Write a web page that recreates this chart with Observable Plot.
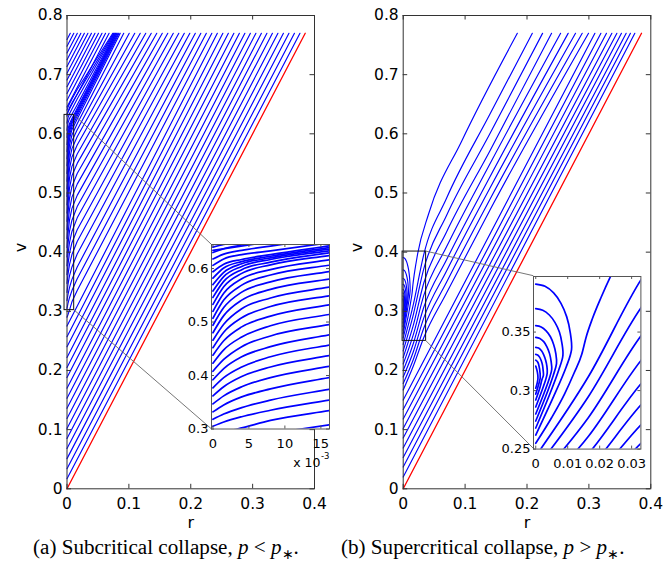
<!DOCTYPE html>
<html><head><meta charset="utf-8">
<script src="https://cdn.jsdelivr.net/npm/d3@7"></script>
<script src="https://cdn.jsdelivr.net/npm/@observablehq/plot@0.6"></script>
<style>
body{margin:0;background:#fff;}
#wrap{position:relative;width:663px;height:565px;overflow:hidden;background:#fff;}
.cap{position:absolute;font-family:"Liberation Serif",serif;font-size:19px;white-space:nowrap;color:#000;line-height:1.2;}
</style></head><body><div id="wrap"></div>
<script>
// ---------- shared values ----------
const topV = 0.77;
const mainXTicks = [0, 0.1, 0.2, 0.3, 0.4];
const mainYTicks = [0, 0.1, 0.2, 0.3, 0.4, 0.5, 0.6, 0.7, 0.8];
const redR = [0, 0.385];
const redV = [0, 0.77];

// ---------- panel (a): subcritical ----------
const aLowV0 = [0.017,0.034,0.051,0.068,0.085,0.102,0.119,0.136,0.153,0.170,0.188,0.205,0.222,0.240,0.257,0.275];
const aLowTopR = [0.3765,0.3676,0.3587,0.3498,0.3409,0.3320,0.3231,0.3142,0.3053,0.2964,0.2875,0.2786,0.2697,0.2608,0.2519,0.2430];
const aGridR = [0, 0.0015, 0.004, 0.008, 0.0165];
const aMidV = [
 [.290,.294,.302,.316,.335],
 [.305,.313,.323,.335,.355],
 [.318,.328,.340,.354,.375],
 [.332,.345,.360,.375,.397],
 [.347,.362,.379,.396,.418],
 [.362,.379,.398,.416,.438],
 [.377,.396,.416,.435,.458],
 [.392,.413,.435,.454,.477],
 [.408,.430,.454,.474,.496],
 [.423,.448,.472,.493,.515],
 [.438,.465,.491,.511,.533],
 [.452,.481,.508,.529,.550],
 [.466,.496,.525,.545,.566],
 [.480,.512,.541,.561,.581],
 [.494,.527,.556,.575,.595],
 [.507,.541,.569,.588,.607],
 [.520,.554,.581,.598,.617],
 [.533,.566,.591,.607,.625],
 [.546,.576,.598,.612,.630],
 [.558,.585,.604,.617,.634],
 [.570,.593,.609,.620,.637],
 [.582,.601,.613,.623,.640],
 [.594,.608,.617,.626,.643],
 [.606,.618,.626,.633,.649],
 [.618,.627,.634,.642,.659],
 [.630,.637,.644,.652,.667],
 [.640,.645,.651,.659,.675]
];
const aMidTopR = [.2341,.2252,.2163,.2074,.1985,.1896,.1807,.1718,.1629,.1540,.1451,.1362,.1273,.1184,.1095,.1006,.0917,.0860,.0840,.0825,.0810,.0798,.0786,.0775,.0764,.0752,.0740];
const aHighV0 = [.634,.6454,.6568,.6682,.6796,.691,.7024,.7138,.7252,.7366,.748,.7594];
const aHighTopR = [.068,.0623,.0566,.0509,.0452,.0395,.0338,.0281,.0224,.0167,.011,.0053];
const aBoxR = [-0.004, 0.0116];
const aBoxV = [0.302, 0.632];
const aInsetXTicks = [0, 0.005, 0.01, 0.015];
const aInsetYTicks = [0.3, 0.4, 0.5, 0.6];

// ---------- panel (b): supercritical ----------
const bTopR = [.1844,.2086,.2252,.2397,.2543,.2666,.2784,.2892,.2994,.3097,.3194,.3284,.3371,.3452,.3526,.3602,.3671,.3742];
const bEdgeR = [0,.005,.009,.012,.0144,.0157,.0178,.0205,.0233,.041,.0946];
const bEdgeV = [.255,.277,.297,.315,.331,.345,.362,.380,.397,.4645,.588];
const bGridR = [0, 0.0165, 0.033, 0.07, 0.14];
const bMidV = [
 [.244,.312,.395,.491,.633],
 [.233,.295,.371,.462,.600],
 [.222,.277,.347,.434,.571],
 [.211,.261,.326,.409,.549],
 [.200,.246,.306,.387,.527],
 [.189,.232,.288,.368,.508],
 [.178,.219,.271,.349,.489],
 [.167,.208,.255,.331,.471]
];
const bLowV0 = [.150,.134,.118,.102,.086,.069,.053,.037,.020];
const bArcR = [
 [0,.0056,.0095,.0112,.0108,.0097,.0079,.0056,.0029,0],
 [0,.00425,.0072,.0085,.0082,.0074,.006,.00425,.0022,0],
 [0,.00325,.0055,.0065,.0063,.0056,.0046,.00325,.0017,0],
 [0,.0025,.00425,.005,.0048,.0043,.0035,.0025,.0013,0],
 [0,.0018,.0031,.0036,.0035,.0031,.0025,.0018,.0009,0],
 [0,.0012,.002,.0024,.0023,.0021,.0017,.0012,.0006,0],
 [0,.0007,.0012,.0014,.0012,.0007,0],
 [0,.0005,.0007,.0005,0]
];
const bArcV = [
 [.262,.295,.320,.335,.3495,.363,.3746,.3835,.3891,.391],
 [.268,.296,.3176,.330,.3404,.350,.3583,.3646,.3686,.370],
 [.274,.296,.3132,.323,.3314,.3393,.346,.3511,.3544,.3555],
 [.280,.2971,.3104,.318,.3251,.3318,.3374,.3418,.3446,.3455],
 [.286,.299,.3092,.315,.3207,.326,.3306,.334,.3363,.337],
 [.292,.3015,.3098,.313,.3177,.322,.3257,.3286,.3304,.331],
 [.297,.3033,.3082,.311,.3185,.324,.326],
 [.302,.307,.311,.316,.321]
];
const bBoxR = [-0.001, 0.037];
const bBoxV = [0.25, 0.401];
const bInsetXTicks = [0, 0.01, 0.02, 0.03];
const bInsetYTicks = [0.25, 0.3, 0.35];

// ---------- build tables ----------
const rowsA = [];
aLowV0.forEach((v0,i)=>{ rowsA.push({id:"low"+i,r:0,v:v0},{id:"low"+i,r:aLowTopR[i],v:topV}); });
aMidV.forEach((vs,i)=>{ vs.forEach((v,j)=>rowsA.push({id:"mid"+i,r:aGridR[j],v})); rowsA.push({id:"mid"+i,r:aMidTopR[i],v:topV}); });
aHighV0.forEach((v0,i)=>{ rowsA.push({id:"high"+i,r:0,v:v0},{id:"high"+i,r:aHighTopR[i],v:topV}); });

const rowsB = [];
bEdgeR.forEach((r,j)=>rowsB.push({id:"edge",r,v:bEdgeV[j]}));
rowsB.push({id:"edge",r:bTopR[0],v:topV});
bMidV.forEach((vs,i)=>{ vs.forEach((v,j)=>rowsB.push({id:"mid"+i,r:bGridR[j],v})); rowsB.push({id:"mid"+i,r:bTopR[1+i],v:topV}); });
bLowV0.forEach((v0,i)=>{ rowsB.push({id:"low"+i,r:0,v:v0},{id:"low"+i,r:bTopR[1+bMidV.length+i],v:topV}); });
const arcsB = [];
bArcR.forEach((rs,i)=>rs.forEach((r,j)=>arcsB.push({id:"arc"+i,r,v:bArcV[i][j]})));

const redRows = redR.map((r,i)=>({r, v:redV[i]}));
const fmt = d => String(d);

// ---------- panels ----------
const wrap = document.getElementById("wrap");
function place(el, left, top, z){ el.style.position="absolute"; el.style.left=left+"px"; el.style.top=top+"px"; el.style.zIndex=z; wrap.appendChild(el); return el; }

const MH = 530, MT = 15, MB = 41.7;
function mainPanel(lineRows, lineCurve, arcRows, boxR, boxV, ml, mr, width){
  const innerH = MH-MT-MB, innerW = width-ml-mr;
  const marks = [Plot.line(lineRows,{x:"r",y:"v",z:"id",stroke:"#0000ff",strokeWidth:1.15,curve:lineCurve})];
  if (arcRows) marks.push(Plot.line(arcRows,{x:"r",y:"v",z:"id",stroke:"#0000ff",strokeWidth:1.15,curve:"catmull-rom"}));
  marks.push(
    Plot.line(redRows,{x:"r",y:"v",stroke:"#ff0000",strokeWidth:1.3}),
    Plot.rect([{x1:boxR[0],x2:boxR[1],y1:boxV[0],y2:boxV[1]}],{x1:"x1",x2:"x2",y1:"y1",y2:"y2",fill:"none",stroke:"#111",strokeWidth:1}),
    Plot.frame({stroke:"#333"}),
    Plot.tickX(mainXTicks,{x:d=>d,insetTop:innerH-4.5,stroke:"#333"}),
    Plot.tickX(mainXTicks,{x:d=>d,insetBottom:innerH-4.5,stroke:"#333"}),
    Plot.tickY(mainYTicks,{y:d=>d,insetRight:innerW-4.5,stroke:"#333"}),
    Plot.tickY(mainYTicks,{y:d=>d,insetLeft:innerW-4.5,stroke:"#333"}),
    Plot.text(["r"],{frameAnchor:"bottom",dy:39,fontSize:16}),
    Plot.text(["v"],{frameAnchor:"left",dx:-46,rotate:-90,fontSize:16})
  );
  return Plot.plot({
    width, height:MH, marginLeft:ml, marginRight:mr, marginTop:MT, marginBottom:MB,
    style:{background:"transparent",fontFamily:"DejaVu Sans, sans-serif",fontSize:"15.5px",color:"black",overflow:"visible"},
    x:{domain:[0,0.4],ticks:mainXTicks,tickFormat:fmt,tickSize:0,tickPadding:9.5,label:null},
    y:{domain:[0,0.8],ticks:mainYTicks,tickFormat:fmt,tickSize:0,tickPadding:4.5,label:null},
    marks
  });
}

function insetPanel(o){
  const width = o.ml+o.fw+o.mr, height = o.mt+o.fh+o.mb;
  const marks = [
    Plot.frame({fill:"white",stroke:"none"}),
    Plot.line(o.rows,{x:"r",y:"v",z:"id",stroke:"#0000ff",strokeWidth:1.7,curve:"monotone-x",clip:true})
  ];
  if (o.arcs) marks.push(Plot.line(o.arcs,{x:"r",y:"v",z:"id",stroke:"#0000ff",strokeWidth:1.7,curve:"catmull-rom",clip:true}));
  marks.push(
    Plot.frame({stroke:"#555"}),
    Plot.tickX(o.xTicks,{x:d=>d,insetTop:o.fh-3,stroke:"#555"}),
    Plot.tickX(o.xTicks,{x:d=>d,insetBottom:o.fh-3,stroke:"#555"}),
    Plot.tickY(o.yTicks,{y:d=>d,insetRight:o.fw-3,stroke:"#555"}),
    Plot.tickY(o.yTicks,{y:d=>d,insetLeft:o.fw-3,stroke:"#555"})
  );
  if (o.extra) marks.push(...o.extra);
  return Plot.plot({
    width, height, marginLeft:o.ml, marginRight:o.mr, marginTop:o.mt, marginBottom:o.mb,
    style:{background:"transparent",fontFamily:"DejaVu Sans, sans-serif",fontSize:"13px",color:"black",overflow:"visible"},
    x:{domain:o.xDomain,ticks:o.xTicks,tickFormat:o.xFmt,tickSize:0,tickPadding:o.xPad,label:null},
    y:{domain:o.yDomain,ticks:o.yTicks,tickFormat:fmt,tickSize:0,tickPadding:3,label:null},
    marks
  });
}

// layout
const A = {left:0, ml:66.5, mr:16, width:330};
const B = {left:336, ml:66.7, mr:10.7, width:325};
const IA = {left:181, top:238, ml:30, mt:6, mr:6, mb:44, fw:118, fh:184.5};
const IB = {left:497.3, top:269.7, ml:36, mt:6, mr:6, mb:24, fw:107.4, fh:172.6};

const mainA = place(mainPanel(rowsA, "linear", null, aBoxR, aBoxV, A.ml, A.mr, A.width), A.left, 0, 1);
const mainB = place(mainPanel(rowsB, "monotone-x", arcsB, bBoxR, bBoxV, B.ml, B.mr, B.width), B.left, 0, 1);

const insetA = insetPanel({...IA, rows:rowsA, xDomain:[-0.0002,0.0162], yDomain:[0.3,0.645],
  xTicks:aInsetXTicks, yTicks:aInsetYTicks, xFmt:d=>String(Math.round(d*1000)), xPad:9.5,
  extra:[
    Plot.text(["x 10"],{frameAnchor:"bottom-right",dx:-9,dy:38,fontSize:12.5}),
    Plot.text(["-3"],{frameAnchor:"bottom-right",dx:0,dy:30,fontSize:8.5})
  ]});
const insetB = insetPanel({...IB, rows:rowsB, arcs:arcsB, xDomain:[-0.0007,0.0329], yDomain:[0.25,0.3975],
  xTicks:bInsetXTicks, yTicks:bInsetYTicks, xFmt:fmt, xPad:10});

// connectors (overlay), computed from the scales
const ov = d3.create("svg").attr("width",663).attr("height",565).node();
place(ov, 0, 0, 2);
function connectors(plotEl, offX, boxR, boxV, I){
  const sx = plotEl.scale("x"), sy = plotEl.scale("y");
  const rx = offX + sx.apply(boxR[1]);
  const pts = [
    [rx, sy.apply(boxV[1]), I.left+I.ml, I.top+I.mt],
    [rx, sy.apply(boxV[0]), I.left+I.ml, I.top+I.mt+I.fh]
  ];
  pts.forEach(p=>d3.select(ov).append("line").attr("x1",p[0]).attr("y1",p[1]).attr("x2",p[2]).attr("y2",p[3])
    .attr("stroke","#666").attr("stroke-width",0.9));
}
connectors(mainA, A.left, aBoxR, aBoxV, IA);
connectors(mainB, B.left, bBoxR, bBoxV, IB);

place(insetA, IA.left, IA.top, 3);
place(insetB, IB.left, IB.top, 3);

// captions
function makeCap(html){
  const d = document.createElement("div");
  d.className = "cap"; d.innerHTML = html;
  place(d, 0, 536, 4);
  return d;
}
const capA = makeCap('(a) Subcritical collapse, <i>p</i> &lt; <i>p</i><sub style="font-size:0.65em">∗</sub>.');
const capB = makeCap('(b) Supercritical collapse, <i>p</i> &gt; <i>p</i><sub style="font-size:0.65em">∗</sub>.');
const wA = capA.getBoundingClientRect().width;
const fs = 19 * 265 / wA;
[capA, capB].forEach(c => c.style.fontSize = fs.toFixed(2) + "px");
capA.style.top = capB.style.top = (548 - fs*0.6).toFixed(1) + "px";
capA.style.left = "33px";
const wB = capB.getBoundingClientRect().width;
capB.style.left = Math.min(341, 663 - wB - 2) + "px";
</script></body></html>
